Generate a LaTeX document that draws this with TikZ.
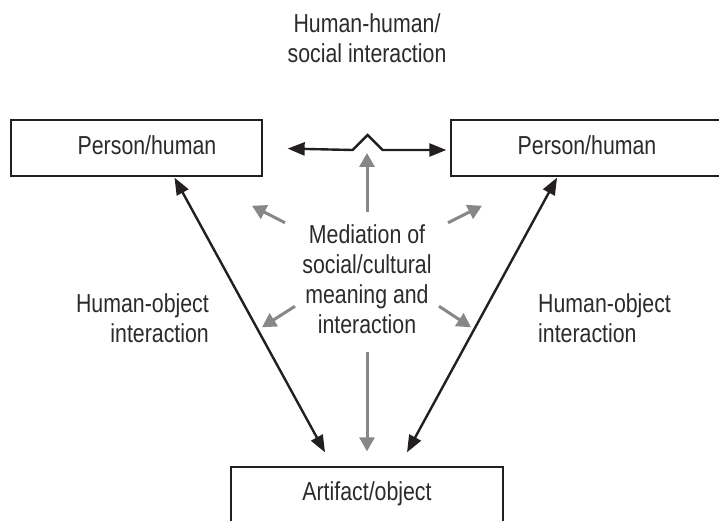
\documentclass[tikz,border=0pt]{standalone}
\usepackage{fontspec}
\setmainfont{Liberation Sans}[FakeStretch=0.82]
\usetikzlibrary{arrows.meta}

\definecolor{inkdark}{HTML}{231F20}
\definecolor{inktext}{HTML}{2B2B2B}
\definecolor{arrgray}{HTML}{878787}

\tikzset{
  box/.style = {draw = inkdark, line width = 1.3pt, minimum width = 251pt, minimum height = 56pt,
                inner sep = 0pt, text height = 18pt, text depth = 4pt,
                font = \fontsize{26}{30}\selectfont, text = inktext},
  lbl/.style = {inner sep = 0pt, font = \fontsize{26}{30}\selectfont, text = inktext},
  blk/.style = {draw = inkdark, line width = 2.4pt,
                {Triangle[length=17pt,width=13pt]}-{Triangle[length=17pt,width=13pt]}},
  gry/.style = {draw = arrgray, line width = 3pt, -{Triangle[length=14pt,width=15pt]}}
}

\begin{document}
\begin{tikzpicture}[x = 1pt, y = -1pt]
	\useasboundingbox (0,0) rectangle (719,521);

	% boxes
	\node[box] (pl) at (136.5,148) {\hspace*{21pt}Person/human};
	\node[box, minimum width = 272pt] (pr) at (587,148) {Person/human};
	\node[box, minimum width = 272pt, minimum height = 70pt, text depth = 22pt] (ao) at (367,502) {Artifact/object};

	% labels
	\node[lbl, align = center, anchor = north] (hh) at (367,13) {Human-human/\\social interaction};
	\node[lbl, align = center, anchor = north] (med) at (367,224) {Mediation of\\social/cultural\\meaning and\\interaction};
	\node[lbl, align = right, anchor = north east] (hol) at (209,293) {Human-object\\interaction};
	\node[lbl, align = left, anchor = north west] (hor) at (538,293) {Human-object\\interaction};

	% human-human
	\draw[blk, shorten <= 25pt, shorten >= 4pt] (pl.east) -- ++(90,2) -- ++(15,-15) -- ++(15,15) -- ([yshift=-2pt]pr.west);

	% human-object
	\draw[blk] ([xshift=38pt, yshift=-1pt]pl.south) -- ([shift={(-42,-14)}]ao.north);
	\draw[blk] ([xshift=-30pt, yshift=-1pt]pr.south) -- ([shift={(40,-14)}]ao.north);

	% mediation
	\coordinate (top) at (367,153);
	\draw[gry] ([yshift=12pt]med.north) -- (top);
	\draw[gry] ([yshift=-19pt]med.south) -- ([yshift=15pt]ao.north);
	\foreach \dx/\dy/\ex/\ey in {-82/-56/-33/-17, 81/-56/34/-17, -72/27.5/-33/21, 72/27.5/32/21}{
		\draw[gry] ([shift={(\dx,\dy)}]med.center) -- ++(\ex,\ey);
	}
\end{tikzpicture}
\end{document}
